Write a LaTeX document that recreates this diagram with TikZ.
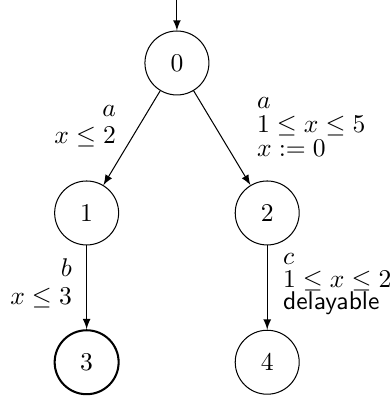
\documentclass[tikz,border=0pt]{standalone}
\usetikzlibrary{positioning}
\begin{document}
\begin{tikzpicture}[node distance=2cm, on grid]
    \tikzstyle{etat} = [circle, draw=black, minimum size=25pt, inner sep=0pt]
    \tikzstyle{final} = [etat, thick]
    \tikzstyle{arrow} = [->,>=latex]
    \tikzstyle{garde} = [inner sep=0pt]

    \useasboundingbox (-2.43,0.865) rectangle (2.94,-4.67);

    \node (q0) [etat] at (0,0) {$0$};
    \node (q1) [etat, below left=2.06cm and 1.24cm of q0] {$1$};
    \node (q2) [etat, below right=2.06cm and 1.24cm of q0] {$2$};
    \node (q3) [final, below=2.05cm of q1] {$3$};
    \node (q4) [etat, below=2.05cm of q2] {$4$};
    \coordinate [above=0.865cm of q0] (init);

    \draw [arrow] (init) -- (q0);
    \draw [arrow] (q0) -- node[garde, align=right, anchor=east, pos=0.375, xshift=-8.8pt] {$a$\\[-1.1pt]$x \le 2$} (q1);
    \draw [arrow] (q0) -- node[garde, align=left, anchor=west, pos=0.386, xshift=16pt] {$a$\\[-2.6pt]$1 \le x \le 5$\\[-2.6pt]$x := 0$} (q2);
    \draw [arrow] (q1) -- node[garde, align=right, anchor=east, xshift=-5.6pt, yshift=1.6pt] {$b$\\[-1.1pt]$x \le 3$} (q3);
    % transition retardable
    \draw [arrow] (q2) -- node[garde, align=left, anchor=west, xshift=6pt, yshift=1.2pt] {$c$\\[-3.2pt]$1 \le x \le 2$\\[-3.2pt]\textsf{delayable}} (q4);
\end{tikzpicture}
\end{document}
